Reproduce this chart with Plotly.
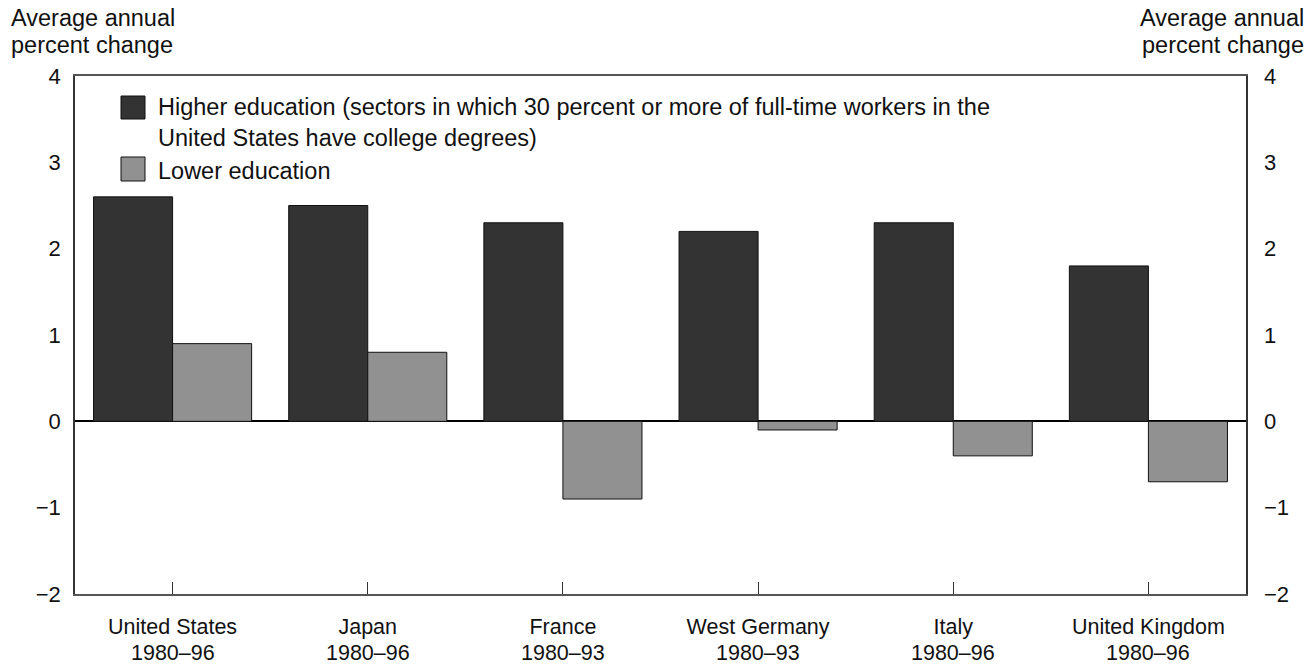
import plotly.graph_objects as go

countries = ["United States", "Japan", "France", "West Germany", "Italy", "United Kingdom"]
periods = ["1980–96", "1980–96", "1980–93", "1980–93", "1980–96", "1980–96"]
higher = [2.6, 2.5, 2.3, 2.2, 2.3, 1.8]
lower = [0.9, 0.8, -0.9, -0.1, -0.4, -0.7]
y_ticks = [-2, -1, 0, 1, 2, 3, 4]
y_ticktext = ["−2", "−1", "0", "1", "2", "3", "4"]
legend_higher = "Higher education (sectors in which 30 percent or more of full-time workers in the<br>United States have college degrees)"
legend_lower = "Lower education"
axis_title_lines = ["Average annual", "percent change"]

FONT = "Liberation Sans, Arial, Helvetica, sans-serif"
FS = 23.5
FX = 21.5
C_HI = "#333333"
C_LO = "#919191"
TXT = "#111111"

L, R, T, B = 75, 69, 76, 71
W = 1315 - L - R
H = 665 - T - B

fig = go.Figure()
fig.add_trace(go.Bar(x=countries, y=higher, name="Higher education",
                     marker=dict(color=C_HI, line=dict(color="#111111", width=1))))
fig.add_trace(go.Bar(x=countries, y=lower, name="Lower education",
                     marker=dict(color=C_LO, line=dict(color="#111111", width=1))))
# invisible trace to activate right axis
fig.add_trace(go.Scatter(x=[countries[0]], y=[0], yaxis="y2", mode="markers",
                         marker=dict(opacity=0), showlegend=False, hoverinfo="skip"))

fig.update_layout(
    width=1315, height=665,
    margin=dict(l=L, r=R, t=T, b=B, autoexpand=False),
    paper_bgcolor="white", plot_bgcolor="white",
    barmode="group", bargap=0.19, bargroupgap=0,
    showlegend=False,
    font=dict(family=FONT, size=FS, color=TXT),
    xaxis=dict(type="category", showline=True, linecolor="#555555", linewidth=1.5,
               mirror=True, ticks="inside", ticklen=12, tickcolor="#333333", tickwidth=1,
               showgrid=False, ticklabelstandoff=12, automargin=False,
               tickfont=dict(family=FONT, size=FX, color=TXT)),
    yaxis=dict(range=[-2, 4], tickvals=y_ticks, ticktext=y_ticktext,
               showline=True, linecolor="#333333", linewidth=1.5, mirror=True,
               ticks="", showgrid=False, zeroline=True, zerolinecolor="#000000",
               zerolinewidth=1.5, ticklabelstandoff=8, automargin=False,
               tickfont=dict(family=FONT, size=22, color=TXT)),
    yaxis2=dict(range=[-2, 4], tickvals=y_ticks, ticktext=y_ticktext,
                overlaying="y", side="right", showline=False, ticks="",
                showgrid=False, zeroline=False, ticklabelstandoff=17, automargin=False,
                tickfont=dict(family=FONT, size=22, color=TXT)),
)

def px_x(x):
    return (x - L) / W

def px_y(y):
    return 1 - (y - T) / H

# period line under each country label
for c, p in zip(countries, periods):
    fig.add_annotation(text=p, x=c, xref="x", yref="paper", y=0, yshift=-(653 - 594),
                       yanchor="middle", xanchor="center", showarrow=False,
                       font=dict(family=FONT, size=FX, color=TXT))

# axis titles (left and right), one annotation per line
for text, yc in zip(axis_title_lines, [18, 45]):
    fig.add_annotation(text=text, xref="paper", yref="paper", x=px_x(9), y=px_y(yc),
                       xanchor="left", yanchor="middle", align="left",
                       showarrow=False, font=dict(family=FONT, size=FS, color=TXT))
    fig.add_annotation(text=text, xref="paper", yref="paper", x=px_x(1306), y=px_y(yc),
                       xanchor="right", yanchor="middle", align="right",
                       showarrow=False, font=dict(family=FONT, size=FS, color=TXT))

# legend keys (shapes + text)
fig.add_shape(type="rect", xref="paper", yref="paper",
              x0=px_x(121), x1=px_x(145), y0=px_y(96), y1=px_y(119),
              fillcolor=C_HI, line=dict(color="#111111", width=1))
fig.add_shape(type="rect", xref="paper", yref="paper",
              x0=px_x(121), x1=px_x(145), y0=px_y(157), y1=px_y(181),
              fillcolor=C_LO, line=dict(color="#111111", width=1))
fig.add_annotation(text=legend_higher, xref="paper", yref="paper",
                   x=px_x(156), y=px_y(92), xanchor="left", yanchor="top", align="left",
                   showarrow=False, font=dict(family=FONT, size=FS, color=TXT))
fig.add_annotation(text=legend_lower, xref="paper", yref="paper",
                   x=px_x(156), y=px_y(171), xanchor="left", yanchor="middle", align="left",
                   showarrow=False, font=dict(family=FONT, size=FS, color=TXT))

fig.write_html("out.html", config={"displayModeBar": False},
               post_script="document.body.style.margin='0';")
